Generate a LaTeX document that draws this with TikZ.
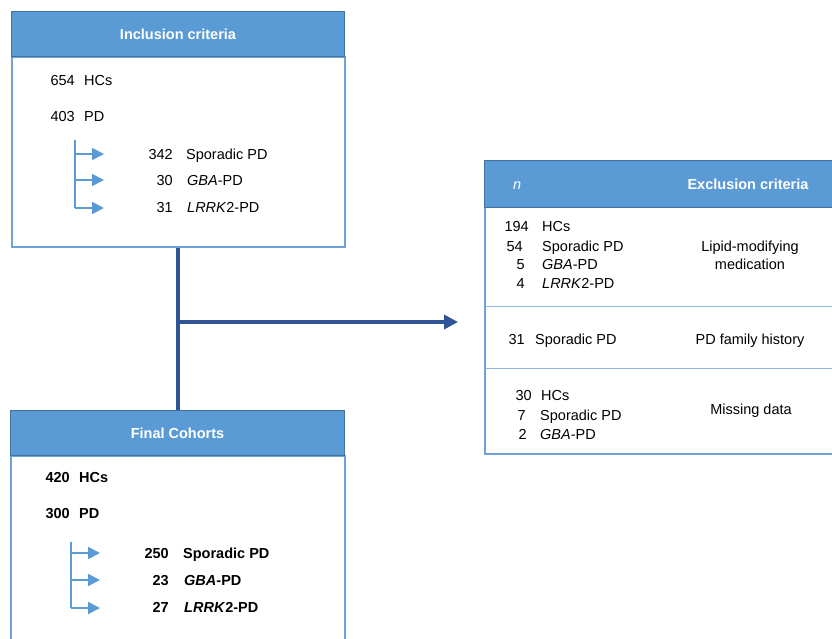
\documentclass[tikz,border=0pt]{standalone}
\usepackage{fontspec}
\setmainfont{Liberation Sans}
\usetikzlibrary{arrows.meta}
\definecolor{hdrfill}{HTML}{5B9BD5}
\definecolor{hdrline}{HTML}{41719C}
\definecolor{boxline}{HTML}{6FA3D8}
\definecolor{sepline}{HTML}{8DB8E3}
\definecolor{navy}{HTML}{2F5597}
\tikzset{
  txt/.style={inner sep=0pt, font=\fontsize{14.5}{17}\selectfont},
  btxt/.style={inner sep=0pt, font=\fontsize{14.5}{17}\selectfont\bfseries},
  hdr/.style={draw=hdrline, fill=hdrfill, line width=1pt, inner sep=0pt, text=white,
    font=\fontsize{14.5}{17}\selectfont\bfseries, anchor=north west},
  bodybox/.style={draw=boxline, fill=white, line width=1.6pt, inner sep=0pt, anchor=north west},
  rowbox/.style={draw=sepline, line width=1.4pt, inner sep=0pt, anchor=north west},
  brk/.style={draw=hdrfill, line width=1.8pt},
  brkarrow/.style={draw=hdrfill, line width=1.8pt, -{Triangle[length=12pt,width=12pt]}},
  mainline/.style={draw=navy, line width=4pt},
  mainarrow/.style={draw=navy, line width=4pt, -{Triangle[length=14pt,width=14pt]}},
}
\begin{document}
\begin{tikzpicture}[x=1pt,y=-1pt]
\useasboundingbox (0,0) rectangle (832,638);
\clip (0,0) rectangle (832,638);

% ---------- Inclusion box ----------
\node[bodybox, minimum width=333pt, minimum height=190pt] (incbody) at (11,56) {};
\node[hdr, minimum width=333pt, minimum height=45pt] (inchdr) at (11,11) {Inclusion criteria};

\node[txt, anchor=base east] (i654) at (75,85) {654};
\node[txt, anchor=base west] (ihc) at (84,85) {HCs};
\node[txt, anchor=base east] (i403) at (75,121) {403};
\node[txt, anchor=base west] (ipd) at (84,121) {PD};

\coordinate (ibtop) at (75,140);
\coordinate (ib1) at (75,154);
\coordinate (ib2) at (75,180);
\coordinate (ib3) at (75,208);
\coordinate (ie1) at (104,154);
\coordinate (ie2) at (104,180);
\coordinate (ie3) at (104,208);
\draw[brk] (ibtop) -- (ib3);
\draw[brkarrow] (ib1) -- (ie1);
\draw[brkarrow] (ib2) -- (ie2);
\draw[brkarrow] (ib3) -- (ie3);

\node[txt, anchor=base east] (i342) at (173,159) {342};
\node[txt, anchor=base west] (ispo) at (186,159) {Sporadic PD};
\node[txt, anchor=base east] (i30) at (173,185) {30};
\node[txt, anchor=base west] (igba) at (187,185) {\textit{GBA}-PD};
\node[txt, anchor=base east] (i31) at (173,212) {31};
\node[txt, anchor=base west] (ilrrk) at (187,212) {\textit{LRRK}2-PD};

% ---------- Final cohorts box ----------
\node[bodybox, minimum width=334pt, minimum height=220pt] (finbody) at (10,455) {};
\node[hdr, minimum width=334pt, minimum height=45pt] (finhdr) at (10,410) {Final Cohorts};

\node[btxt, anchor=base east] (f420) at (70,482) {420};
\node[btxt, anchor=base west] (fhc) at (79,482) {HCs};
\node[btxt, anchor=base east] (f300) at (70,518) {300};
\node[btxt, anchor=base west] (fpd) at (79,518) {PD};

\coordinate (fbtop) at (71,542);
\coordinate (fb1) at (71,553);
\coordinate (fb2) at (71,580);
\coordinate (fb3) at (71,608);
\coordinate (fe1) at (100,553);
\coordinate (fe2) at (100,580);
\coordinate (fe3) at (100,608);
\draw[brk] (fbtop) -- (fb3);
\draw[brkarrow] (fb1) -- (fe1);
\draw[brkarrow] (fb2) -- (fe2);
\draw[brkarrow] (fb3) -- (fe3);

\node[btxt, anchor=base east] (f250) at (169,558) {250};
\node[btxt, anchor=base west] (fspo) at (183,558) {Sporadic PD};
\node[btxt, anchor=base east] (f23) at (169,585) {23};
\node[btxt, anchor=base west] (fgba) at (184,585) {\textit{GBA}-PD};
\node[btxt, anchor=base east] (f27) at (169,612) {27};
\node[btxt, anchor=base west] (flrrk) at (184,612) {\textit{LRRK}2-PD};

% ---------- Main connector ----------
\coordinate (junc) at (177.5,322);
\coordinate (exend) at (458,322);
\draw[mainline] (incbody.south) -- (incbody.south |- finhdr.north);
\draw[mainarrow] (junc) -- (exend);

% ---------- Exclusion table ----------
\node[rowbox, minimum width=370pt, minimum height=99pt] (row1) at (484,207) {};
\node[rowbox, minimum width=370pt, minimum height=62pt] (row2) at (484,306) {};
\node[rowbox, minimum width=370pt, minimum height=85pt] (row3) at (484,368) {};
\node[bodybox, fill=none, minimum width=370pt, minimum height=293pt] (exbody) at (484,160) {};
\node[hdr, minimum width=370pt, minimum height=47pt] (exhdr) at (484,160) {};
\node[txt, text=white, anchor=base west] (exn) at (513,189) {\textit{n}};
\node[btxt, text=white, anchor=base] (extitle) at (748,189) {Exclusion criteria};

% row 1
\node[txt, anchor=base east] (e194) at (529,231) {194};
\node[txt, anchor=base west] (ehc1) at (542,231) {HCs};
\node[txt, anchor=base east] (e54) at (523,251) {54};
\node[txt, anchor=base west] (espo1) at (542,251) {Sporadic PD};
\node[txt, anchor=base east] (e5) at (525,269) {5};
\node[txt, anchor=base west] (egba1) at (542,269) {\textit{GBA}-PD};
\node[txt, anchor=base east] (e4) at (525,288) {4};
\node[txt, anchor=base west] (elrrk1) at (542,288) {\textit{LRRK}2-PD};
\node[txt, anchor=base] (elipid) at (750,251) {Lipid-modifying};
\node[txt, anchor=base] (emed) at (750,269) {medication};

% row 2
\node[txt, anchor=base east] (e31) at (525,344) {31};
\node[txt, anchor=base west] (espo2) at (535,344) {Sporadic PD};
\node[txt, anchor=base] (efam) at (750,344) {PD family history};

% row 3
\node[txt, anchor=base east] (e30) at (532,400) {30};
\node[txt, anchor=base west] (ehc3) at (541,400) {HCs};
\node[txt, anchor=base east] (e7) at (526,420) {7};
\node[txt, anchor=base west] (espo3) at (540,420) {Sporadic PD};
\node[txt, anchor=base east] (e2) at (527,439) {2};
\node[txt, anchor=base west] (egba3) at (540,439) {\textit{GBA}-PD};
\node[txt, anchor=base] (emiss) at (751,414) {Missing data};

\end{tikzpicture}
\end{document}
